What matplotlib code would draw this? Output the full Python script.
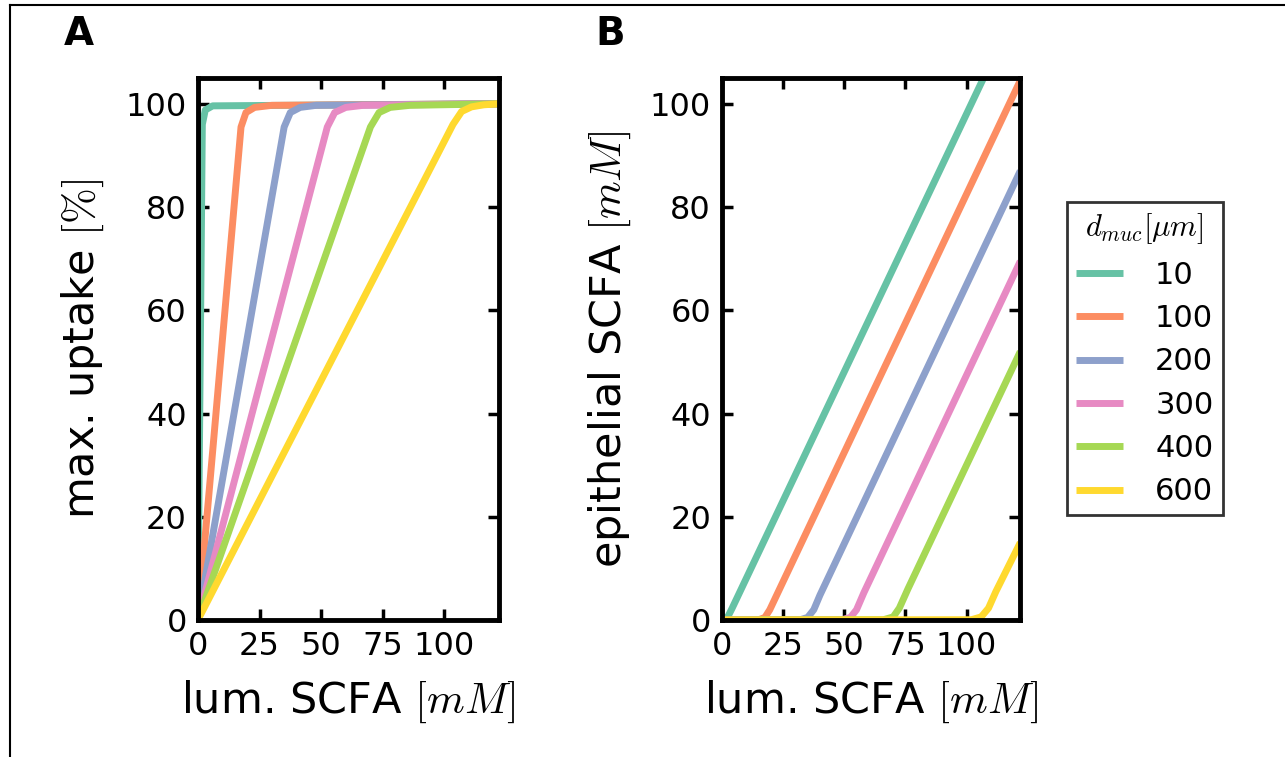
import matplotlib.pyplot as plt
from matplotlib.lines import Line2D

plt.rcParams['mathtext.fontset'] = 'cm'
plt.rcParams['font.family'] = 'DejaVu Sans'

# mucus thickness (legend) and colours
d_muc = ['10', '100', '200', '300', '400', '600']
colors = ['#66c2a5', '#fc8d62', '#8da0cb', '#e78ac3', '#a6d854', '#ffd92f']

# panel A: max. uptake [%] vs lum. SCFA [mM]
a_x = [
    [0, 1.8, 3, 6, 122],
    [0, 17.5, 19.5, 23, 30, 122],
    [0, 35, 37.5, 41.5, 48, 122],
    [0, 52.5, 55.5, 60, 67, 122],
    [0, 70, 73.5, 78, 86, 122],
    [0, 103.5, 107, 111, 116, 122],
]
a_y = [
    [0, 96, 98.8, 99.6, 100],
    [0, 95.5, 98.3, 99.3, 99.7, 100],
    [0, 95.5, 98.3, 99.3, 99.7, 100],
    [0, 95.5, 98.3, 99.3, 99.7, 100],
    [0, 95.5, 98.3, 99.3, 99.7, 100],
    [0, 96, 98.5, 99.4, 99.8, 100],
]

# panel B: epithelial SCFA [mM] vs lum. SCFA [mM]
b_x = [
    [0, 1, 2.5, 4, 122],
    [0, 15, 17.5, 19.5, 22, 122],
    [0, 32, 35, 37.5, 40, 122],
    [0, 49, 52.5, 55, 58, 122],
    [0, 66, 70, 72.5, 76, 122],
    [0, 102, 106, 109, 112, 122],
]
b_y = [
    [0, 0.1, 0.8, 2.2, 120],
    [0, 0.05, 0.5, 2, 4.5, 104.5],
    [0, 0.05, 0.5, 2, 4.8, 87],
    [0, 0.05, 0.5, 2, 5.3, 69.5],
    [0, 0.05, 0.6, 2.3, 6, 52],
    [0, 0.05, 0.6, 2.3, 5.5, 15],
]

x_ticks = [0, 25, 50, 75, 100]
y_ticks = [0, 20, 40, 60, 80, 100]

fig = plt.figure(figsize=(12.85, 7.57), dpi=100)
axA = fig.add_axes([0.154, 0.181, 0.234, 0.716])
axB = fig.add_axes([0.562, 0.181, 0.232, 0.716])

for i in range(len(d_muc)):
    axA.plot(a_x[i], a_y[i], color=colors[i], lw=5, solid_capstyle='butt')
    axB.plot(b_x[i], b_y[i], color=colors[i], lw=5, solid_capstyle='butt',
             label=d_muc[i])

for ax in (axA, axB):
    ax.set_xlim(0, 122)
    ax.set_ylim(0, 105)
    ax.set_xticks(x_ticks)
    ax.set_yticks(y_ticks)
    ax.tick_params(direction='in', length=8, width=2.5, labelsize=23,
                   pad=8, top=True, right=True)
    for s in ax.spines.values():
        s.set_linewidth(3.5)
    ax.set_xlabel(r'lum. SCFA $[mM]$', fontsize=31, labelpad=12)

axA.set_ylabel(r'max. uptake $[\%]$', fontsize=31, labelpad=14)
axB.set_ylabel(r'epithelial SCFA $[mM]$', fontsize=31, labelpad=12)

fig.text(0.05, 0.94, 'A', fontsize=28, fontweight='bold')
fig.text(0.463, 0.94, 'B', fontsize=28, fontweight='bold')

handles, labels = axB.get_legend_handles_labels()
leg = fig.legend(handles, labels, title=r'$d_{muc}[\mu m]$', loc='upper left',
                 bbox_to_anchor=(0.830, 0.733), borderaxespad=0,
                 fontsize=22, title_fontsize=22,
                 frameon=True, fancybox=False, edgecolor='black',
                 handlelength=1.55, handletextpad=1.05, labelspacing=0.47,
                 borderpad=0.3)
leg.get_frame().set_linewidth(2)
for t in leg.get_texts():
    t.set_ha('left')

# frame around the figure (top and left edges)
fig.add_artist(Line2D([10 / 1285, 1.0], [1 - 5 / 757, 1 - 5 / 757],
                      transform=fig.transFigure, color='black', lw=1.5))
fig.add_artist(Line2D([10 / 1285, 10 / 1285], [0, 1 - 5 / 757],
                      transform=fig.transFigure, color='black', lw=1.5))

fig.savefig('out.png', dpi=100)
